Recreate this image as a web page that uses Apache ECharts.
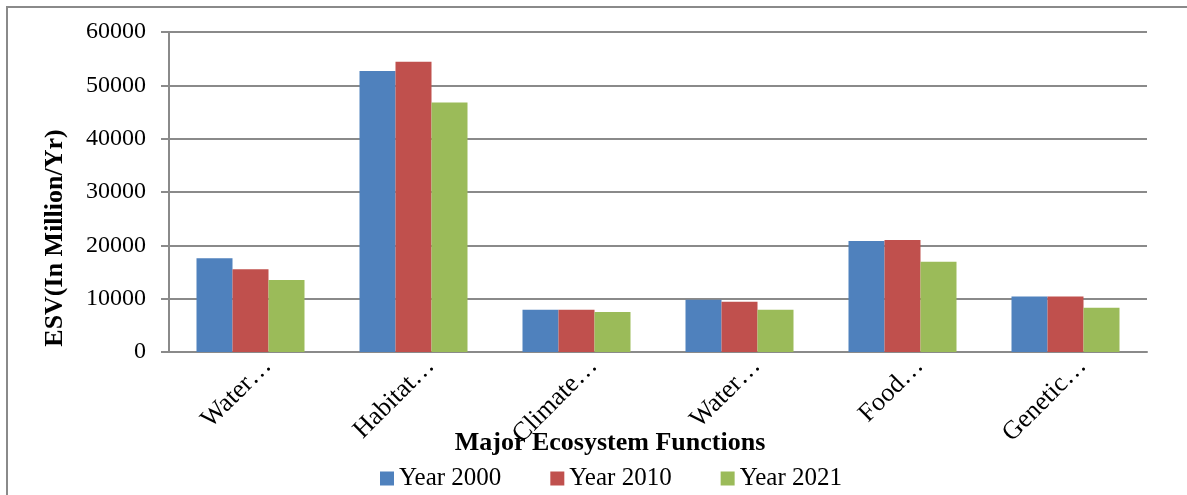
<!DOCTYPE html>
<html>
<head>
<meta charset="utf-8">
<script src="https://cdn.jsdelivr.net/npm/echarts@6/dist/echarts.min.js"></script>
<style>
html, body { margin: 0; padding: 0; background: #fff; }
#chart { width: 1187px; height: 495px; }
</style>
</head>
<body>
<div id="chart"></div>
<script>
// 数据
const categories = ['Water…', 'Habitat…', 'Climate…', 'Water…', 'Food…', 'Genetic…'];
const year2000 = [17600, 52700, 7900, 9800, 20800, 10400];
const year2010 = [15500, 54400, 7900, 9400, 21000, 10400];
const year2021 = [13500, 46800, 7500, 7900, 16900, 8300];
const seriesNames = ['Year 2000', 'Year 2010', 'Year 2021'];
const yTicks = [0, 10000, 20000, 30000, 40000, 50000, 60000];

const serif = '"Liberation Serif", "DejaVu Serif", serif';
const gridColor = '#8a8a8a';

const chart = echarts.init(document.getElementById('chart'));
chart.setOption({
    animation: false,
    color: ['#4F81BD', '#C0504D', '#9BBB59'],
    grid: { left: 169, right: 40, top: 32, bottom: 143 },
    legend: {
        data: seriesNames,
        left: 380, top: 466, padding: 0,
        itemWidth: 14, itemHeight: 14, itemGap: 49,
        icon: 'rect',
        textStyle: { fontFamily: serif, fontSize: 25, color: '#000' }
    },
    graphic: [
        {
            type: 'rect', silent: true,
            shape: { x: 7, y: 7, width: 1300, height: 600 },
            style: { fill: 'none', stroke: '#8a8a8a', lineWidth: 2 }
        },
        {
            type: 'text', x: 55, y: 238, rotation: Math.PI / 2,
            style: {
                text: 'ESV(In Million/Yr)', fontFamily: serif, fontSize: 26, fontWeight: 'bold',
                fill: '#000', align: 'center', verticalAlign: 'middle'
            }
        },
        {
            type: 'text', x: 610, y: 443,
            style: {
                text: 'Major Ecosystem Functions', fontFamily: serif, fontSize: 26, fontWeight: 'bold',
                fill: '#000', align: 'center', verticalAlign: 'middle'
            }
        }
    ],
    xAxis: {
        type: 'category',
        data: categories,
        axisLine: { lineStyle: { color: gridColor, width: 2 } },
        axisTick: { show: false },
        axisLabel: {
            rotate: 45, interval: 0, margin: -7,
            align: 'right', verticalAlign: 'top', lineHeight: 48,
            fontFamily: serif, fontSize: 26, color: '#000'
        }
    },
    yAxis: {
        type: 'value',
        min: yTicks[0], max: yTicks[yTicks.length - 1], interval: 10000,
        axisLine: { show: true, lineStyle: { color: gridColor, width: 2 } },
        axisTick: { show: true, length: 8, lineStyle: { color: gridColor, width: 2 } },
        splitLine: { lineStyle: { color: gridColor, width: 2 } },
        axisLabel: {
            margin: 23, fontFamily: serif, fontSize: 24, color: '#000',
            formatter: function (v) { return String(v); }
        }
    },
    series: [
        { name: seriesNames[0], type: 'bar', data: year2000, barWidth: 36, barGap: '0%' },
        { name: seriesNames[1], type: 'bar', data: year2010, barWidth: 36, barGap: '0%' },
        { name: seriesNames[2], type: 'bar', data: year2021, barWidth: 36, barGap: '0%' }
    ]
});
</script>
</body>
</html>
